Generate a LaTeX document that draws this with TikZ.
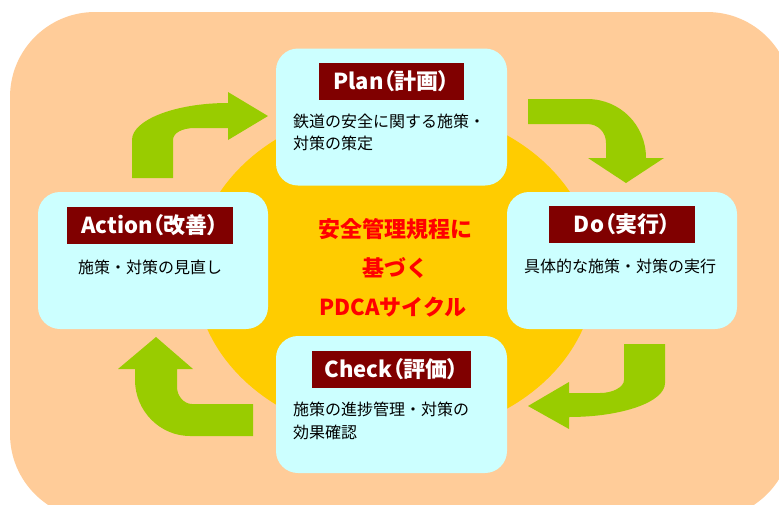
\documentclass[tikz,border=0pt]{standalone}
\usepackage{fontspec}
\setmainfont{Noto Sans CJK JP}
\newfontfamily\tagfont{Noto Sans CJK JP}[RawFeature=+palt]
\usetikzlibrary{positioning}
\definecolor{peach}{RGB}{255,204,153}
\definecolor{sun}{RGB}{255,204,0}
\definecolor{leaf}{RGB}{153,204,0}
\definecolor{pale}{RGB}{204,255,255}
\definecolor{maroon}{RGB}{128,0,0}

\begin{document}
\begin{tikzpicture}[x=1pt,y=-1pt,
    box/.style={fill=pale,rounded corners=22pt,minimum height=137pt,inner sep=0pt},
    tag/.style={fill=maroon,text=white,font=\tagfont\fontsize{22}{22}\selectfont\bfseries,minimum height=37pt,inner sep=0pt},
    body/.style={font=\fontsize{16}{22.5}\selectfont,inner sep=0pt,align=left},
    motto/.style={text=red,font=\fontsize{22}{22}\selectfont\bfseries,inner sep=0pt}]
    \clip (0,0) rectangle (779,504);
    \fill [peach,rounded corners=85pt] (10,12) rectangle (792,519);
    \fill [sun] (395,272) ellipse [x radius=200, y radius=165];

    \begin{scope}[leaf]
    \fill (132,178) -- (132,140) .. controls (132,120) and (175,103) .. (228,103) -- (228,92)
        -- (268,116) -- (228,140) -- (228,128) -- (195,128) .. controls (182,128) and (173,133) .. (173,140)
        -- (173,178) -- cycle;
    \fill (528,99) -- (587,99) .. controls (620,99) and (646,125) .. (646,158) -- (664,158)
        -- (626,183) -- (588,158) -- (606,158) -- (606,143) .. controls (606,132) and (598,124) .. (587,124)
        -- (528,124) -- cycle;
    \fill (624,344) -- (665,344) -- (665,383) .. controls (665,402) and (622,417) .. (569,417) -- (569,429)
        -- (528,406) -- (569,382) -- (569,393) -- (600,393) .. controls (613,393) and (624,387) .. (624,380)
        -- cycle;
    \fill (253,404) -- (253,436) -- (190,436) .. controls (160,436) and (135,411) .. (135,380) -- (135,369)
        -- (118,369) -- (156,337) -- (193,369) -- (177,369) -- (177,387) .. controls (177,396) and (184,404) .. (192,404)
        -- cycle;
    \end{scope}

    \node [box,minimum width=231pt] (plan) at (391.5,117) {};
    \node [box,minimum width=230pt] (action) at (153,260.5) {};
    \node [box,minimum width=230pt] (do) at (622,260.5) {};
    \node [box,minimum width=231pt] (check) at (391.5,404.5) {};

    \node [tag,minimum width=145pt,below=14pt of plan.north] (planlbl) {Plan（計画）};
    \node [tag,minimum width=166pt,below=15pt of action.north,xshift=-3pt] (actionlbl) {Action（改善）};
    \node [tag,minimum width=146pt,below=14pt of do.north] (dolbl) {Do（実行）};
    \node [tag,minimum width=159pt,below=15pt of check.north] (checklbl) {Check（評価）};

    \node [body,below right=65pt and 17pt of plan.north west] (plantxt) {鉄道の安全に関する施策・\\対策の策定};
    \node [body,below=16pt of actionlbl] (actiontxt) {施策・対策の見直し};
    \node [body,below=16pt of dolbl,xshift=-2pt] (dotxt) {具体的な施策・対策の実行};
    \node [body,below right=66pt and 17pt of check.north west] (checktxt) {施策の進捗管理・対策の\\効果確認};

    \node [motto] (motto1) at (395,229) {安全管理規程に};
    \node [motto,below=18pt of motto1] (motto2) {基づく};
    \node [motto,below=18pt of motto2,xshift=-2pt] (motto3) {PDCAサイクル};
\end{tikzpicture}
\end{document}
